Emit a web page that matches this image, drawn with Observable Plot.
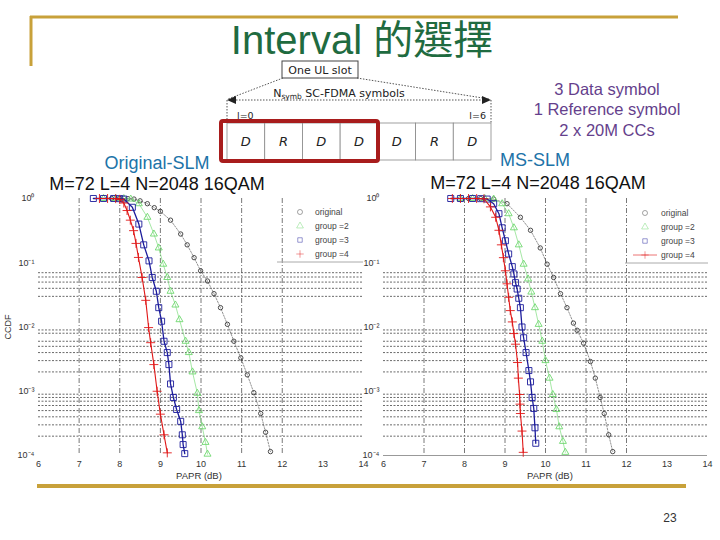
<!DOCTYPE html>
<html><head><meta charset="utf-8">
<script src="https://cdn.jsdelivr.net/npm/d3@7"></script>
<script src="https://cdn.jsdelivr.net/npm/@observablehq/plot@0.6"></script>
<style>
body{margin:0;background:#fff}
#slide{position:relative;width:720px;height:540px;background:#fff;overflow:hidden;font-family:"Liberation Sans",Arial,sans-serif}
.plotbox{position:absolute}
</style></head>
<body><div id="slide"></div>
<script>
// ---------- data ----------
const xTicks = [6, 7, 8, 9, 10, 11, 12, 13, 14];
const yTicks = [1, 0.1, 0.01, 0.001, 0.0001];
const yTickLabels = ["10\u2070", "10\u207B\u00B9", "10\u207B\u00B2", "10\u207B\u00B3", "10\u207B\u2074"];
const gridX = [7, 8, 9, 10, 11, 12];
const gridMinorY = [0.07, 0.06, 0.05, 0.04, 0.03, 0.009, 0.008, 0.006, 0.005, 0.004, 0.003, 0.002,
  0.0009, 0.0008, 0.0007, 0.0006, 0.0005, 0.0004, 0.0003, 0.0002];
const xLabel = "PAPR (dB)";
const yLabel = "CCDF";

const seriesNames = ["original", "group =2", "group =3", "group =4"];
const seriesColors = ["#3a3a3a", "#6fd86f", "#1c1c9c", "#e01818"];
const seriesSymbols = ["circle", "triangle", "square", "plus"];

// Left panel: Original-SLM
const origL_x = [7.8, 8.0, 8.2, 8.35, 8.5, 8.68, 8.85, 9.0, 9.25, 9.5, 9.66, 9.83, 9.99, 10.16, 10.32, 10.48, 10.65, 10.81, 10.98, 11.14, 11.30, 11.47, 11.59, 11.71];
const origL_y = [1, 1, 0.995, 0.98, 0.92, 0.83, 0.72, 0.63, 0.46, 0.28, 0.19, 0.12, 0.075, 0.052, 0.033, 0.020, 0.011, 0.006, 0.0033, 0.0018, 0.00095, 0.00045, 0.00023, 0.000115];
const g2L_x = [7.6, 7.9, 8.1, 8.27, 8.47, 8.68, 8.84, 8.96, 9.07, 9.17, 9.25, 9.37, 9.47, 9.62, 9.70, 9.79, 9.91, 9.95, 10.03, 10.11, 10.16];
const g2L_y = [1, 1, 0.995, 0.98, 0.83, 0.51, 0.28, 0.17, 0.095, 0.059, 0.036, 0.022, 0.013, 0.006, 0.004, 0.002, 0.00093, 0.0005, 0.00028, 0.00016, 0.000105];
const g3L_x = [7.35, 7.6, 7.85, 8.0, 8.10, 8.31, 8.47, 8.59, 8.72, 8.80, 8.90, 8.96, 9.03, 9.09, 9.17, 9.21, 9.25, 9.32, 9.40, 9.50, 9.54, 9.56, 9.60];
const g3L_y = [1, 1, 1, 0.995, 0.98, 0.73, 0.40, 0.19, 0.107, 0.059, 0.036, 0.020, 0.0123, 0.006, 0.004, 0.0026, 0.0013, 0.0008, 0.00052, 0.00034, 0.00021, 0.000148, 0.000107];
const g4L_x = [7.5, 7.7, 7.9, 8.0, 8.1, 8.18, 8.26, 8.34, 8.40, 8.46, 8.55, 8.64, 8.71, 8.76, 8.84, 8.92, 9.0, 9.09, 9.17];
const g4L_y = [1, 1, 0.995, 0.97, 0.85, 0.65, 0.46, 0.316, 0.2, 0.121, 0.059, 0.026, 0.0098, 0.0057, 0.0026, 0.001, 0.00044, 0.00021, 0.00011];

// Right panel: MS-SLM
const origR_x = [8.1, 8.4, 8.72, 9.05, 9.38, 9.63, 9.87, 10.04, 10.20, 10.37, 10.53, 10.69, 10.78, 10.94, 11.11, 11.23, 11.35, 11.45, 11.56, 11.66];
const origR_y = [1, 0.995, 0.98, 0.83, 0.51, 0.32, 0.17, 0.095, 0.059, 0.033, 0.020, 0.0115, 0.0089, 0.0056, 0.0029, 0.0016, 0.0008, 0.00045, 0.00021, 0.000115];
const g2R_x = [7.9, 8.2, 8.5, 8.72, 8.93, 9.09, 9.22, 9.34, 9.46, 9.57, 9.65, 9.74, 9.83, 9.92, 10.0, 10.10, 10.18, 10.27, 10.34, 10.43, 10.49];
const g2R_y = [1, 1, 0.995, 0.98, 0.83, 0.58, 0.35, 0.19, 0.095, 0.056, 0.035, 0.020, 0.011, 0.006, 0.003, 0.0016, 0.00089, 0.00052, 0.00028, 0.000166, 0.000112];
const g3R_x = [7.66, 7.9, 8.2, 8.4, 8.56, 8.72, 8.85, 8.93, 9.01, 9.09, 9.18, 9.22, 9.26, 9.30, 9.34, 9.38, 9.42, 9.46, 9.52, 9.59, 9.63, 9.67, 9.71, 9.74, 9.76];
const g3R_y = [1, 1, 1, 0.995, 0.98, 0.83, 0.58, 0.35, 0.22, 0.137, 0.087, 0.067, 0.049, 0.039, 0.028, 0.020, 0.010, 0.0068, 0.004, 0.0021, 0.0014, 0.0008, 0.00054, 0.00027, 0.000155];
const g4R_x = [7.7, 7.9, 8.1, 8.3, 8.48, 8.64, 8.77, 8.85, 8.91, 8.96, 9.01, 9.05, 9.09, 9.13, 9.18, 9.22, 9.26, 9.31, 9.33, 9.36, 9.37, 9.38, 9.42, 9.45];
const g4R_y = [1, 1, 1, 0.998, 0.99, 0.74, 0.51, 0.32, 0.19, 0.12, 0.075, 0.047, 0.029, 0.018, 0.012, 0.0079, 0.0054, 0.0028, 0.0016, 0.00089, 0.00063, 0.00045, 0.00024, 0.000112];

const slotLabels = ["D", "R", "D", "D", "D", "R", "D"];

// ---------- build ----------
const slide = document.getElementById("slide");
const toRows = (xs, ys) => xs.map((x, i) => ({x, y: ys[i]}));
const leftSeries = [toRows(origL_x, origL_y), toRows(g2L_x, g2L_y), toRows(g3L_x, g3L_y), toRows(g4L_x, g4L_y)];
const rightSeries = [toRows(origR_x, origR_y), toRows(g2R_x, g2R_y), toRows(g3R_x, g3R_y), toRows(g4R_x, g4R_y)];

const lineStyles = [
  {strokeWidth: 0.7, strokeDasharray: "1.5,1.5", strokeOpacity: 0.8},
  {strokeWidth: 0.9, strokeOpacity: 0.7},
  {strokeWidth: 1.3},
  {strokeWidth: 1.1}
];
const dotR = [2.2, 2.6, 3.4, 3.0];

function panel(series, o) {
  const marks = [
    Plot.ruleY(gridMinorY, {stroke: "#444", strokeWidth: 0.8, strokeDasharray: "2,1.5"}),
    Plot.ruleX(gridX, {stroke: "#555", strokeWidth: 0.8, strokeDasharray: "5,2,1,2"})
  ];
  if (o.axisLine) marks.push(Plot.ruleY([yTicks[yTicks.length - 1]], {stroke: "#999", strokeWidth: 1}));
  series.forEach((rows, i) => {
    marks.push(Plot.line(rows, {x: "x", y: "y", stroke: seriesColors[i], ...lineStyles[i]}));
    marks.push(Plot.dot(rows, {x: "x", y: "y", symbol: () => seriesSymbols[i], r: dotR[i], stroke: seriesColors[i], fill: "none", strokeWidth: 0.9}));
  });
  const p = Plot.plot({
    width: o.width, height: 305,
    marginLeft: o.ml, marginRight: o.mr, marginTop: 18, marginBottom: 30,
    style: {fontFamily: "'Liberation Sans', Arial, sans-serif", fontSize: "9px", color: "#333", background: "transparent", overflow: "visible"},
    x: {domain: [xTicks[0], xTicks[xTicks.length - 1]], ticks: xTicks, tickSize: 0, tickPadding: 5, label: null},
    y: {type: "log", domain: [yTicks[yTicks.length - 1], yTicks[0]], ticks: yTicks, tickFormat: d => yTickLabels[yTicks.indexOf(d)], tickSize: 0, tickPadding: 4, label: null},
    symbol: {type: "identity"},
    marks
  });
  const box = document.createElement("div");
  box.className = "plotbox";
  box.style.left = o.left + "px"; box.style.top = "180px";
  box.appendChild(p);
  slide.appendChild(box);
}
panel(leftSeries, {width: 370, ml: 38, mr: 7, left: 0, axisLine: false});
panel(rightSeries, {width: 358, ml: 21, mr: 13, left: 362, axisLine: true});

// ---------- slide decorations, texts, legends ----------
const svg = d3.select(slide).append("svg")
  .attr("width", 720).attr("height", 540)
  .style("position", "absolute").style("left", 0).style("top", 0).style("pointer-events", "none")
  .attr("font-family", "'Liberation Sans',Arial,sans-serif");
const gold = "#c8a13a";
svg.append("line").attr("x1", 30).attr("x2", 678).attr("y1", 17).attr("y2", 17).attr("stroke", gold).attr("stroke-width", 3);
svg.append("line").attr("x1", 31).attr("x2", 31).attr("y1", 16).attr("y2", 66).attr("stroke", gold).attr("stroke-width", 3);
svg.append("line").attr("x1", 37).attr("x2", 686).attr("y1", 486).attr("y2", 486).attr("stroke", gold).attr("stroke-width", 4);

const txt = (x, y, s, size, fill, anchor = "middle", extra = {}) => {
  const t = svg.append("text").attr("x", x).attr("y", y).attr("font-size", size).attr("fill", fill).attr("text-anchor", anchor).text(s);
  for (const k in extra) t.attr(k, extra[k]);
  return t;
};
txt(362, 54, "Interval 的選擇", 40, "#1f6b40", "middle", {"font-family": "'Liberation Sans','Noto Sans CJK TC',sans-serif"});
txt(607, 95, "3 Data symbol", 16.5, "#653f8c");
txt(607, 115, "1 Reference symbol", 16.5, "#653f8c");
txt(607, 136, "2 x 20M CCs", 16.5, "#653f8c");
txt(157, 169, "Original-SLM", 18, "#2073a8");
txt(157, 190, "M=72 L=4 N=2048 16QAM", 18, "#111");
txt(535, 166, "MS-SLM", 18, "#2073a8");
txt(538, 189, "M=72 L=4 N=2048 16QAM", 18, "#111");
txt(670, 522, "23", 12, "#333");
// axis titles
txt(199, 479, xLabel, 9.5, "#333");
txt(550, 479, xLabel, 9.5, "#333");
txt(0, 0, yLabel, 9, "#333", "middle", {transform: "translate(11,327) rotate(-90)"});

// slot diagram
const dg = svg.append("g").attr("font-family", "'DejaVu Sans',sans-serif");
dg.append("rect").attr("x", 282).attr("y", 61).attr("width", 76).attr("height", 17).attr("fill", "#fff").attr("stroke", "#444").attr("stroke-width", 1);
dg.append("text").attr("x", 320).attr("y", 74).attr("text-anchor", "middle").attr("font-size", 11).attr("fill", "#222").text("One UL slot");
const dotted = {stroke: "#555", "stroke-width": 1, "stroke-dasharray": "1.5,1.5"};
const dl = (x1, y1, x2, y2) => { const l = dg.append("line").attr("x1", x1).attr("y1", y1).attr("x2", x2).attr("y2", y2); for (const k in dotted) l.attr(k, dotted[k]); };
dl(283, 78, 228, 99); dl(357, 78, 489, 99);
dl(233, 100, 485, 100);
dl(227, 100, 227, 123); dl(491, 100, 491, 123);
dg.append("path").attr("d", "M227,100 L236,96 L236,104 Z").attr("fill", "#222");
dg.append("path").attr("d", "M491,100 L482,96 L482,104 Z").attr("fill", "#222");
const nt = dg.append("text").attr("x", 339).attr("y", 97).attr("text-anchor", "middle").attr("font-size", 11).attr("fill", "#222");
nt.append("tspan").text("N");
nt.append("tspan").attr("font-size", 7.5).attr("dy", 2).text("symb");
nt.append("tspan").attr("dy", -2).text(" SC-FDMA symbols");
dg.append("text").attr("x", 237).attr("y", 119).attr("font-size", 9.5).attr("fill", "#222").text("l=0");
dg.append("text").attr("x", 486).attr("y", 119).attr("text-anchor", "end").attr("font-size", 9.5).attr("fill", "#222").text("l=6");
const cw = (491 - 227) / slotLabels.length;
slotLabels.forEach((s, i) => {
  dg.append("rect").attr("x", 227 + i * cw).attr("y", 123).attr("width", cw).attr("height", 37).attr("fill", "#fff").attr("stroke", "#888").attr("stroke-width", 0.8);
  dg.append("text").attr("x", 227 + i * cw + cw / 2).attr("y", 146).attr("text-anchor", "middle").attr("font-size", 13).attr("font-style", "italic").attr("fill", "#222").text(s);
});
dg.append("rect").attr("x", 221).attr("y", 121).attr("width", 157).attr("height", 40).attr("fill", "none").attr("stroke", "#a81c1c").attr("stroke-width", 4).attr("rx", 2);

// legends
function legend(mx, tx, y0, lx1, lx2, redLine) {
  const g = svg.append("g");
  seriesNames.forEach((n, i) => {
    const y = y0 + i * 14;
    if (redLine && i === 3) g.append("line").attr("x1", mx - 12).attr("x2", mx + 12).attr("y1", y).attr("y2", y).attr("stroke", seriesColors[i]).attr("stroke-opacity", 0.6);
    const sym = d3.symbol(d3["symbol" + seriesSymbols[i][0].toUpperCase() + seriesSymbols[i].slice(1)], 20);
    g.append("path").attr("d", sym()).attr("transform", `translate(${mx},${y})`).attr("fill", "none").attr("stroke", seriesColors[i]).attr("stroke-opacity", 0.45);
    g.append("text").attr("x", tx).attr("y", y + 3).attr("font-size", 8.5).attr("fill", "#444").text(n);
  });
  g.append("line").attr("x1", lx1).attr("x2", lx2).attr("y1", y0 + 50).attr("y2", y0 + 50).attr("stroke", "#aaa").attr("stroke-width", 1);
}
legend(300, 315, 212, 277, 363, false);
legend(645, 661, 213, 625, 708, true);
</script>
</body></html>
